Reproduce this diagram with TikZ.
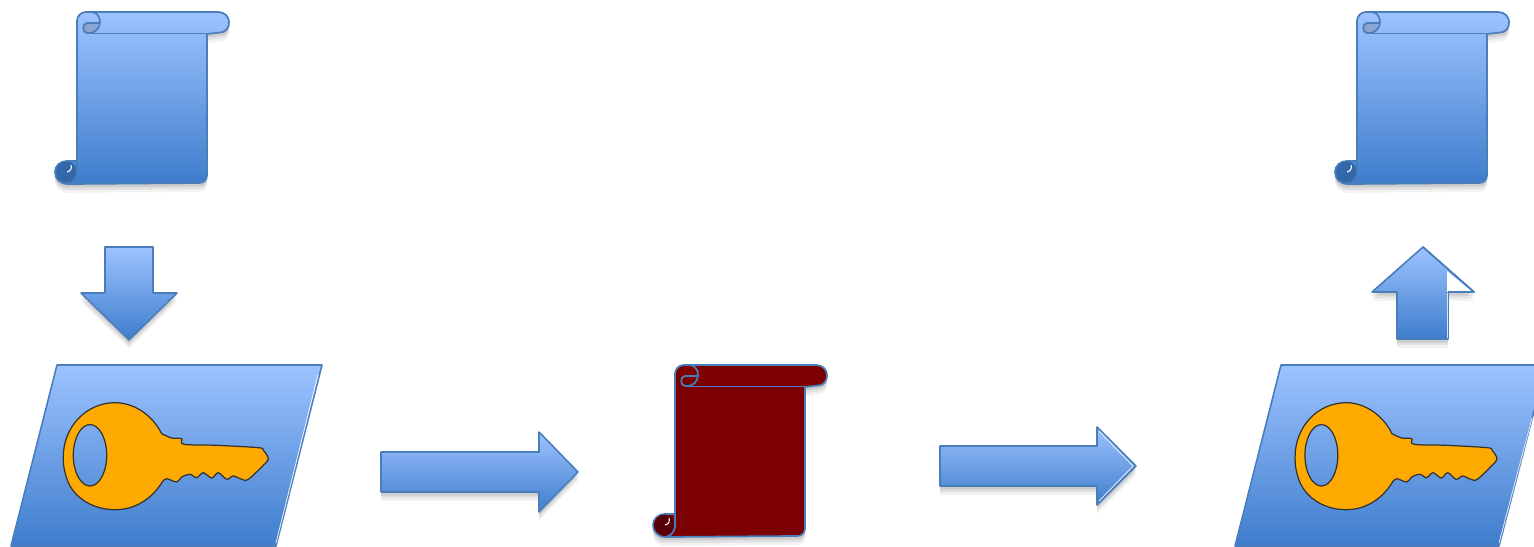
\documentclass[tikz,border=0pt]{standalone}
\usetikzlibrary{shadows}
\definecolor{cblueT}{RGB}{157,195,255}
\definecolor{cblueB}{RGB}{62,125,204}
\definecolor{cline}{RGB}{74,126,187}
\definecolor{ccurl}{RGB}{50,104,170}
\definecolor{cfold}{RGB}{140,165,208}
\definecolor{cred}{RGB}{125,0,0}
\definecolor{cdark}{RGB}{88,0,10}
\definecolor{ckey}{RGB}{255,170,0}
\tikzset{
  softshadow/.style={
    general shadow={fill=black,opacity=.05,shadow xshift=0pt,shadow yshift=-5pt},
    general shadow={fill=black,opacity=.07,shadow xshift=0pt,shadow yshift=-3.5pt},
    general shadow={fill=black,opacity=.09,shadow xshift=0pt,shadow yshift=-2pt}},
  blueshape/.style={draw=cline,line width=.9pt,line join=round,top color=cblueT,bottom color=cblueB},
  blockarrow/.style={blueshape,softshadow},
  glint/.style={white,line width=.5pt,opacity=.8},
  pics/scrollpic/.style n args={3}{code={
    % sheet with both rolled ends
    \path[#1,softshadow,line width=1pt,draw=cline,line join=round]
      (0,9) .. controls (0,4) and (4,0) .. (9,0) -- (141,0) .. controls (148,0) and (152,5) .. (152,10)
      .. controls (152,15) and (150,20) .. (143,20.5) -- (130,22) -- (130,163)
      .. controls (130,168) and (127,171) .. (122,171) -- (-9,172)
      .. controls (-17,172) and (-22,167) .. (-22,160)
      .. controls (-22,154) and (-17,149) .. (-10,149) -- (0,149) -- cycle;
    \draw[cline,line width=1pt] (10,21.5) -- (130,21.5);
    % top curl
    \fill[#3] (9,11) -- (21,11) .. controls (21,16) and (17,21) .. (13,21)
      -- (10,21) .. controls (5,21) and (5,11) .. (9,11) -- cycle;
    \draw[cline,line width=1pt,line join=round] (14,0) .. controls (20,0) and (23,5) .. (23,10)
      .. controls (23,16) and (18,21) .. (13,21) -- (10,21)
      .. controls (5,21) and (5,11) .. (10,11) -- (22,11);
    % bottom curl
    \fill[#2] (-10.5,160) circle[radius=10.5];
    \draw[cline,line width=1pt] (0,149) -- (0,156) .. controls (1,165) and (-3,171) .. (-9,172);
    \draw[white,line width=.6pt] (-6,153) .. controls (-5,156) and (-6,159) .. (-10,160);
  }},
  pics/keypic/.style={code={
    % bow and bit in one path, the hole left open
    \path[draw=black!80,fill=ckey,line width=.7pt,even odd rule]
      plot[smooth,tension=.55] coordinates {
        (46.7,-22.3) (56.7,-18) (66.7,-17.3) (69,-11.7) (101.7,-10.7) (143.3,-8.3)
        (148.3,-5.7) (153.3,2.7) (148.3,9.3) (133.3,23.3) (126.7,23.3) (118.3,20)
        (111.7,23.3) (103.3,16.7) (96.7,22) (88.3,16.7) (81.7,21.7) (75,18.3)
        (66.7,21) (61.7,26) (51.7,22.7) (47.7,25.3)}
      .. controls (37,43) and (20,53.7) .. (0,53.7)
      .. controls (-22,53.7) and (-40,42) .. (-47,26)
      .. controls (-50,18) and (-52,10) .. (-51.7,1)
      .. controls (-51.7,-30) and (-28,-53.3) .. (0,-53.3)
      .. controls (20,-53.3) and (38,-40) .. (46.7,-22.3) -- cycle
      (-25,-.7) ellipse[x radius=16.7,y radius=30.7];
  }}
}
\begin{document}
\begin{tikzpicture}[x=.02cm,y=-.02cm]
  \clip (0,0) rectangle (1534,547);
  % scrolls
  \pic (plainA) at (77,12) {scrollpic={blueshape}{ccurl}{cfold}};
  \pic (plainB) at (1357,12) {scrollpic={blueshape}{ccurl}{cfold}};
  \pic (cipher) at (675,365) {scrollpic={fill=cred}{cdark}{cred}};
  % key panels
  \path[blueshape] (57,365) -- (322,365) -- (276,546) -- (11,546) -- cycle;
  \path[blueshape] (1281,365) -- (1546,365) -- (1499,546) -- (1235,546) -- cycle;
  \draw[glint] (318,375) -- (276,543);
  \draw[glint] (1532,418) -- (1499,543);
  \pic (keyA) at (115,456) {keypic};
  \pic[xscale=.985] (keyB) at (1346,456) {keypic};
  % block arrows
  \path[blockarrow] (105,247) -- (153,247) -- (153,293) -- (177,293) -- (129,340)
    -- (81,293) -- (105,293) -- cycle;
  \path[blockarrow] (381,452) -- (539,452) -- (539,432) -- (578,472) -- (539,512)
    -- (539,492) -- (381,492) -- cycle;
  \path[blockarrow] (940,446) -- (1097,446) -- (1097,427) -- (1136,466) -- (1097,505)
    -- (1097,486) -- (940,486) -- cycle;
  \draw[glint] (1099,431) -- (1133,466) -- (1099,501);
  \path[blockarrow] (1423,247) -- (1474,292) -- (1448,292) -- (1448,339) -- (1397,339)
    -- (1397,292) -- (1372,292) -- cycle;
  % unfilled corner of the up arrow
  \fill[white] (1447,271) -- (1472.5,292) -- (1447,292) -- cycle;
  \draw[cline,line width=.9pt,line join=round] (1423,247) -- (1474,292) -- (1448,292);
  \draw[glint] (1447,293) -- (1447,338);
\end{tikzpicture}
\end{document}
